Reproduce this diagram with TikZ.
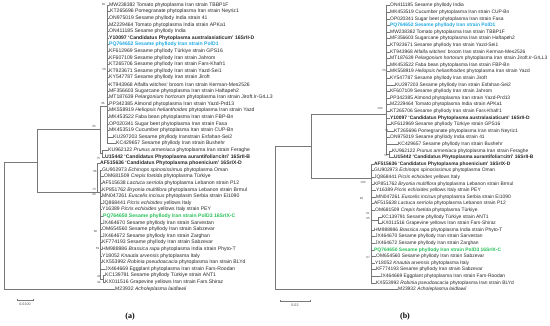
\documentclass[tikz,border=0pt]{standalone}
\usepackage{fontspec}
\setmainfont{Liberation Sans}
\newfontfamily\capfont{Liberation Serif}
\definecolor{lblblue}{RGB}{30,168,228}
\definecolor{lblgreen}{RGB}{36,190,86}
\definecolor{treegray}{RGB}{120,120,120}
\begin{document}
\begin{tikzpicture}[x=1pt,y=-1pt,
  lblL/.style={anchor=west,inner sep=0pt,text=black!85,font=\fontsize{5.1}{5.1}\selectfont},
  lblR/.style={anchor=west,inner sep=0pt,text=black!85,font=\fontsize{4.9}{4.9}\selectfont},
  bs/.style={inner sep=0pt,text=black!70,font=\fontsize{3}{3}\selectfont},
  br/.style={draw=treegray,line width=0.45pt},
  capt/.style={inner sep=0pt,font=\capfont\bfseries\fontsize{8}{8}\selectfont},
  blueb/.style={text=lblblue,font=\bfseries\fontsize{5.1}{5.1}\selectfont},
  greenb/.style={text=lblgreen,font=\bfseries\fontsize{5.1}{5.1}\selectfont}]
\useasboundingbox (0,0) rectangle (550,326);
% ---------------- panel (a) labels ----------------
\node[lblL] (l1) at (109,5) {MW238382 Tomato phytoplasma Iran strain TBBP1F};
\node[lblL] (l2) at (110,11.6) {KT265696 Pomegranate phytoplasma Iran strain Neyriz1};
\node[lblL] (l3) at (109,18.2) {ON975019 Sesame phyllody India strain 41};
\node[lblL] (l4) at (109,24.8) {MZ229464 Tomato phytoplasma India strain APKa1};
\node[lblL] (l5) at (109,31.4) {ON411185 Sesame phyllody India};
\node[lblL,font=\bfseries\fontsize{5.1}{5.1}\selectfont] (l6) at (109,38) {Y10097 `Candidatus Phytoplasma australasiaticum' 16SrII-D};
\node[lblL,blueb] (l7) at (109,44.6) {PQ764652 Sesame phyllody Iran strain PolD1};
\node[lblL] (l8) at (109,51.2) {KF612969 Sesame phyllody Türkiye strain GPS16};
\node[lblL] (l9) at (109,57.8) {KF607109 Sesame phyllody Iran strain Jahrom};
\node[lblL] (l10) at (109,64.4) {KT265706 Sesame phyllody Iran strain Fars-Khafr1};
\node[lblL] (l11) at (109,71) {KT923671 Sesame phyllody Iran strain Yazd-Sei1};
\node[lblL] (l12) at (109,77.6) {KY547787 Sesame phyllody Iran strain Jiroft};
\node[lblL] (l13) at (109,84.2) {KT943968 Alfalfa witches' broom Iran strain Kerman-Mes2526};
\node[lblL] (l14) at (109,90.8) {MF356603 Sugarcane phytoplasma Iran strain Haftapeh2};
\node[lblL] (l15) at (109,97.4) {MT187639 \textit{Pelargonium hortorum} phytoplasma Iran strain Jiroft.Ir-GrLL3};
\node[lblL] (l16) at (109,104) {PP342385 Almond phytoplasma Iran strain Yazd-Prd13};
\node[lblL] (l17) at (109,110.6) {MK558919 \textit{Heliopsis helianthoides} phytoplasma Iran strain Yazd};
\node[lblL] (l18) at (109,117.2) {MK453522 Faba bean phytoplasma Iran strain FBP-Bn};
\node[lblL] (l19) at (109,123.8) {OP020341 Sugar beet phytoplasma Iran strain Fasa};
\node[lblL] (l20) at (109,130.4) {MK453519 Cucumber phytoplasma Iran strain CUP-Bn};
\node[lblL] (l21) at (113,137) {KU297203 Sesame phyllody Iranstrain Esfahan-Sei2};
\node[lblL] (l22) at (116,143.6) {KC429657 Sesame phyllody Iran strain Bushehr};
\node[lblL] (l23) at (108,150.2) {KU962122 \textit{Prunus armeniaca} phytoplasma Iran strain Feraghe};
\node[lblL,font=\bfseries\fontsize{5.1}{5.1}\selectfont] (l24) at (105,156.8) {U15442 `Candidatus Phytoplasma aurantifolia=citri' 16SrII-B};
\node[lblL,font=\bfseries\fontsize{5.1}{5.1}\selectfont] (l25) at (100,163.4) {AF515636 `Candidatus Phytoplasma phoenicium' 16SrIX-D};
\node[lblL] (l26) at (102,170) {GU902973 \textit{Echinops spinosissimus} phytoplasma Oman};
\node[lblL] (l27) at (104,176.6) {OM681509 \textit{Crepis foetida} phytoplasma Türkiye};
\node[lblL] (l28) at (102,183.2) {AF515638 \textit{Lactuca serriola} phytoplasma Lebanon strain P12};
\node[lblL] (l29) at (102,189.8) {KP851762 \textit{Bryonia multiflora} phytoplasma Lebanon strain Brmul};
\node[lblL] (l30) at (102,196.4) {MN047261 \textit{Euscelis incisus} phytoplasm Serbia strain Ei1090};
\node[lblL] (l31) at (102,203) {JQ868441 \textit{Picris echioides} yellows Italy};
\node[lblL] (l32) at (102,209.6) {Y16389 \textit{Picris echioides} yellows Italy strain PEY};
\node[lblL,greenb] (l33) at (103,216.2) {PQ764650 Sesame phyllody Iran strain PolD3 16SrIX-C};
\node[lblL] (l34) at (102,222.8) {JX464670 Sesame phyllody Iran strain Sarvestan};
\node[lblL] (l35) at (102,229.4) {OM654560 Sesame phyllody Iran strain Sabzevar};
\node[lblL] (l36) at (102,236) {JX464672 Sesame phyllody Iran strain Zarghan};
\node[lblL] (l37) at (102,242.6) {KF774193 Sesame phyllody Iran strain Sabzevar};
\node[lblL] (l38) at (102,249.2) {HM988986 \textit{Brassica rapa} phytoplasma India strain Phyto-T};
\node[lblL] (l39) at (102,255.8) {Y18052 \textit{Knautia arvensis} phytoplasma Italy};
\node[lblL] (l40) at (102,262.4) {KX553992 \textit{Robinia pseudoacacia} phytoplasma Iran strain BLYd};
\node[lblL] (l41) at (105,269) {JX464669 Eggplant phytoplasma Iran strain Fars-Roodan};
\node[lblL] (l42) at (105,275.6) {KC139791 Sesame phyllody Türkiye strain ANT1};
\node[lblL] (l43) at (105,282.2) {KX011516 Grapevine yellows Iran strain Fars.Shiraz};
\node[lblL] (l44) at (115,288.8) {M23932 \textit{Acholeplasma laidlawii}};
% ---------------- panel (a) tree ----------------
\coordinate (aR1) at (4,162);
\coordinate (aR2) at (4,288.8);
\coordinate (aN1t) at (37,129);
\coordinate (aN1b) at (37,192);
\coordinate (aN2t) at (100,106);
\coordinate (aN2b) at (100,153.5);
\draw[br] (aR1) -- (aR2) -- (l44.west);
\draw[br] (aR1) -- (37,162);
\draw[br] (aN1t) -- (aN1b);
\draw[br] (aN1t) -- (100,129);
\draw[br] (aN2t) -- (aN2b);
\draw[br] (aN2t) -- (107,106);
\draw[br] (107,5) -- (107,143.6);
\foreach \n/\y in {1/5,2/11.6,3/18.2,4/24.8,5/31.4,6/38,7/44.6,8/51.2,9/57.8,10/64.4,11/71,12/77.6,13/84.2,14/90.8,15/97.4,16/104,17/110.6,18/117.2,19/123.8,20/130.4,21/137,22/143.6}
  \draw[br] (107,\y) -- (l\n.west);
\draw[br] (aN2b) -- (102,153.5);
\draw[br] (102,150.2) -- (102,156.8);
\draw[br] (102,150.2) -- (l23.west);
\draw[br] (102,156.8) -- (l24.west);
% lower clade
\draw[br] (aN1b) -- (100,192);
\draw[br] (97,163.4) -- (97,192);
\draw[br] (97,163.4) -- (l25.west);
\draw[br] (100,170) -- (100,278.9);
\foreach \n/\y in {26/170,27/176.6,28/183.2,29/189.8,30/196.4,31/203,32/209.6,33/216.2,34/222.8,35/229.4,36/236,37/242.6,38/249.2,39/255.8,40/262.4,41/269}
  \draw[br] (100,\y) -- (l\n.west);
\draw[br] (100,278.9) -- (103,278.9);
\draw[br] (103,275.6) -- (103,282.2);
\draw[br] (103,275.6) -- (l42.west);
\draw[br] (103,282.2) -- (l43.west);
% bootstrap (a)
\node[bs] (ba1) at (103.5,4.2) {69};
\node[bs] (ba2) at (104,69.8) {58};
\node[bs] (ba3) at (103,103.6) {96};
\node[bs] (ba4) at (94,126.6) {95};
\node[bs] (ba5) at (98.5,158.8) {75};
\node[bs] (ba6) at (95,171) {68};
\node[bs] (ba7) at (94,189.4) {76};
\node[bs] (ba8) at (94,194.6) {99};
\node[bs] (ba9) at (95.5,231) {68};
\node[bs] (ba10) at (97.5,248) {69};
\node[bs] (ba11) at (99,276.8) {90};
\node[bs] (ba12) at (99,282.6) {99};
% scale (a)
\coordinate (sa1) at (17,300);
\coordinate (sa2) at (33,300);
\draw[br] (sa1) -- (sa2);
\draw[br] (17,299) -- (17,301);
\draw[br] (33,299) -- (33,301);
\node[bs,font=\fontsize{3.6}{3.6}\selectfont] (sal) at (25,304.6) {0.0100};
\node[capt] (capa) at (130,317) {(a)};
% ---------------- panel (b) labels ----------------
\node[lblR] (r1) at (390,5.7) {ON411185 Sesame phyllody India};
\node[lblR] (r2) at (390,12.3) {MK453519 Cucumber phytoplasma Iran strain CUP-Bn};
\node[lblR] (r3) at (390,18.9) {OP020341 Sugar beet phytoplasma Iran strain Fasa};
\node[lblR,blueb,font=\bfseries\fontsize{4.9}{4.9}\selectfont] (r4) at (390,25.5) {PQ764652 Sesame phyllody Iran strain PolD1};
\node[lblR] (r5) at (390,32.1) {MW238382 Tomato phytoplasma Iran strain TBBP1F};
\node[lblR] (r6) at (390,38.7) {MF356603 Sugarcane phytoplasma Iran strain Haftapeh2};
\node[lblR] (r7) at (390,45.3) {KT923671 Sesame phyllody Iran strain Yazd-Sei1};
\node[lblR] (r8) at (390,51.9) {KT943968 Alfalfa witches' broom Iran strain Kerman-Mes2526};
\node[lblR] (r9) at (390,58.5) {MT187639 \textit{Pelargonium hortorum} phytoplasma Iran strain Jiroft.Ir-GrLL3};
\node[lblR] (r10) at (390,65.1) {MK453522 Faba bean phytoplasma Iran strain FBP-Bn};
\node[lblR] (r11) at (390,71.7) {MK558919 \textit{Heliopsis helianthoides} phytoplasma Iran strain Yazd};
\node[lblR] (r12) at (390,78.3) {KY547787 Sesame phyllody Iran strain Jiroft};
\node[lblR] (r13) at (395,84.9) {KU297203 Sesame phyllody Iran strain Esfahan-Sei2};
\node[lblR] (r14) at (390,91.5) {KF607109 Sesame phyllody Iran strain Jahrom};
\node[lblR] (r15) at (390,98.1) {PP342385 Almond phytoplasma Iran strain Yazd-Prd13};
\node[lblR] (r16) at (390,104.7) {MZ229464 Tomato phytoplasma India strain APKa1};
\node[lblR] (r17) at (390,111.3) {KT265706 Sesame phyllody Iran strain Fars-Khafr1};
\node[lblR,font=\bfseries\fontsize{4.9}{4.9}\selectfont] (r18) at (390,117.9) {Y10097 `Candidatus Phytoplasma australasiaticum' 16SrII-D};
\node[lblR] (r19) at (391,124.5) {KF612969 Sesame phyllody Türkiye strain GPS16};
\node[lblR] (r20) at (394,131.1) {KT265696 Pomegranate phytoplasma Iran strain Neyriz1};
\node[lblR] (r21) at (390,137.7) {ON975019 Sesame phyllody India strain 41};
\node[lblR] (r22) at (398,144.3) {KC429657 Sesame phyllody Iran strain Bushehr};
\node[lblR] (r23) at (392,150.9) {KU962122 \textit{Prunus armeniaca} phytoplasma Iran strain Feraghe};
\node[lblR,font=\bfseries\fontsize{4.9}{4.9}\selectfont] (r24) at (394,157.5) {U15442 `Candidatus Phytoplasma aurantifolia=citri' 16SrII-B};
\node[lblR,font=\bfseries\fontsize{4.9}{4.9}\selectfont] (r25) at (374,164.1) {AF515636 `Candidatus Phytoplasma phoenicium' 16SrIX-D};
\node[lblR] (r26) at (374,170.7) {GU902973 \textit{Echinops spinosissimus} phytoplasma Oman};
\node[lblR] (r27) at (374,177.3) {JQ868441 \textit{Picris echioides} yellows Italy};
\node[lblR] (r28) at (374,183.9) {KP851762 \textit{Bryonia multiflora} phytoplasma Lebanon strain Brmul};
\node[lblR] (r29) at (376,190.5) {Y16389 \textit{Picris echioides} yellows Italy strain PEY};
\node[lblR] (r30) at (376,197.1) {MN047261 \textit{Euscelis incisus} phytoplasma Serbia strain Ei1090};
\node[lblR] (r31) at (374,203.7) {AF515638 \textit{Lactuca serriola} phytoplasma Lebanon strain P12};
\node[lblR] (r32) at (375,210.3) {OM681509 \textit{Crepis foetida} phytoplasma Türkiye};
\node[lblR] (r33) at (382,216.9) {KC139791 Sesame phyllody Türkiye strain ANT1};
\node[lblR] (r34) at (382,223.5) {KX011516 Grapevine yellows Iran strain Fars-Shiraz};
\node[lblR] (r35) at (374,230.1) {HM988986 \textit{Brassica rapa} phytoplasma India strain Phyto-T};
\node[lblR] (r36) at (375,236.7) {JX464670 Sesame phyllody Iran strain Sarvestan};
\node[lblR] (r37) at (375,243.3) {JX464672 Sesame phyllody Iran strain Zarghan};
\node[lblR,greenb,font=\bfseries\fontsize{4.9}{4.9}\selectfont] (r38) at (374,249.9) {PQ764650 Sesame phyllody Iran strain PolD3 16SrIX-C};
\node[lblR] (r39) at (376,256.5) {OM654560 Sesame phyllody Iran strain Sabzevar};
\node[lblR] (r40) at (375,263.1) {Y18052 \textit{Knautia arvensis} phytoplasma Italy};
\node[lblR] (r41) at (376,269.7) {KF774193 Sesame phyllody Iran strain Sabzevar};
\node[lblR] (r42) at (380,276.3) {JX464669 Eggplant phytoplasma Iran strain Fars-Roodan};
\node[lblR] (r43) at (376,282.9) {KX553992 \textit{Robinia pseudoacacia} phytoplasma Iran strain BLYd};
\node[lblR] (r44) at (398,289.5) {M23932 \textit{Acholeplasma laidlawii}};
% ---------------- panel (b) tree ----------------
\coordinate (bR1) at (275,146);
\coordinate (bR2) at (275,289.5);
\coordinate (bN1t) at (311,114);
\coordinate (bN1b) at (311,178);
\draw[br] (bR1) -- (bR2) -- (r44.west);
\draw[br] (bR1) -- (311,146);
\draw[br] (bN1t) -- (bN1b);
\draw[br] (bN1t) -- (386,114);
\draw[br] (386,5.7) -- (386,154.2);
\foreach \n/\y in {1/5.7,2/12.3,3/18.9,4/25.5,5/32.1,6/38.7,7/45.3,8/51.9,9/58.5,10/65.1,11/71.7,12/78.3,13/84.9,14/91.5,15/98.1,16/104.7,17/111.3,18/117.9,19/124.5,20/131.1,21/137.7,22/144.3}
  \draw[br] (386,\y) -- (r\n.west);
\draw[br] (386,154.2) -- (389,154.2);
\draw[br] (389,150.9) -- (389,157.5);
\draw[br] (389,150.9) -- (r23.west);
\draw[br] (389,157.5) -- (r24.west);
% lower clade (b)
\draw[br] (bN1b) -- (371,178);
\draw[br] (371,164.1) -- (371,282.9);
\foreach \n/\y in {25/164.1,26/170.7,27/177.3,28/183.9,29/190.5,30/197.1,31/203.7,32/210.3,35/230.1,36/236.7,37/243.3,38/249.9,39/256.5,40/263.1,41/269.7,42/276.3,43/282.9}
  \draw[br] (371,\y) -- (r\n.west);
\draw[br] (371,220.2) -- (378,220.2);
\draw[br] (378,216.9) -- (378,223.5);
\draw[br] (378,216.9) -- (r33.west);
\draw[br] (378,223.5) -- (r34.west);
% bootstrap (b)
\node[bs] (bb1) at (384,70.8) {56};
\node[bs] (bb2) at (380,108.6) {100};
\node[bs] (bb3) at (386.5,130.6) {76};
\node[bs] (bb4) at (386,155.6) {51};
\node[bs] (bb5) at (363,182.6) {100};
\node[bs] (bb6) at (361.5,198) {90};
\node[bs] (bb7) at (368,213.4) {61};
\node[bs] (bb8) at (368,218.6) {65};
\node[bs] (bb9) at (368,257) {67};
% scale (b)
\coordinate (sb1) at (280,301);
\coordinate (sb2) at (310,301);
\draw[br] (sb1) -- (sb2);
\draw[br] (280,300) -- (280,302);
\draw[br] (310,300) -- (310,302);
\node[bs,font=\fontsize{3.6}{3.6}\selectfont] (sbl) at (295,305.6) {0.02};
\node[capt] (capb) at (405,317) {(b)};
\end{tikzpicture}
\end{document}
